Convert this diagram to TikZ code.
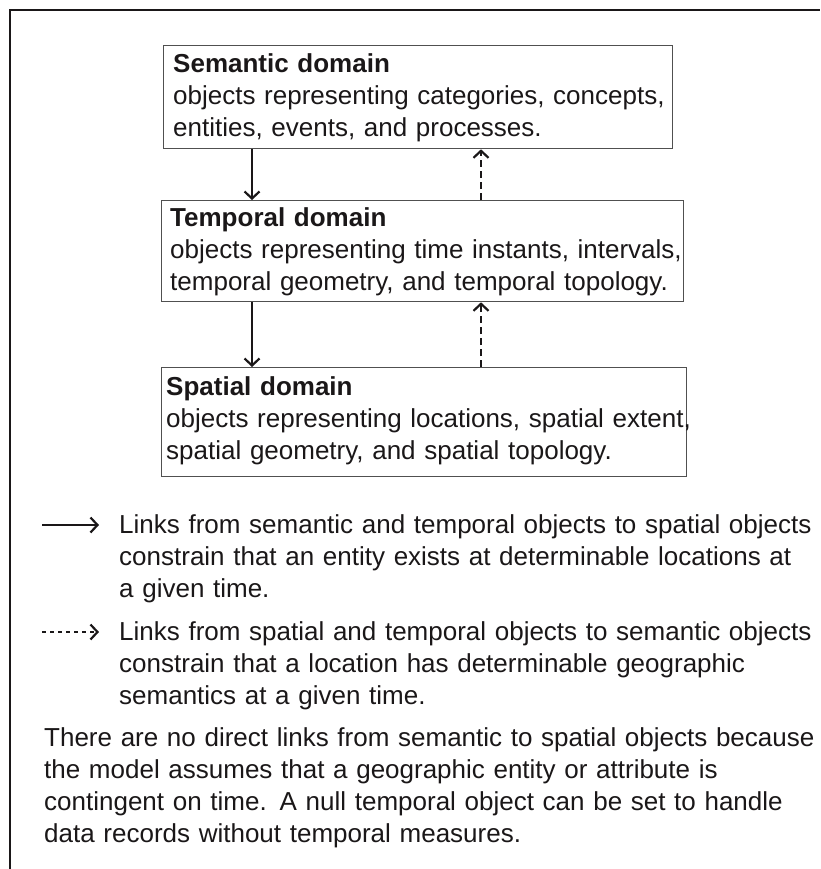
\documentclass[tikz,border=0pt]{standalone}
\usepackage{fontspec}
\setmainfont{Liberation Sans}
\usetikzlibrary{arrows.meta,calc}
\definecolor{ink}{HTML}{1A1718}
\definecolor{boxline}{HTML}{505050}
\begin{document}
\begin{tikzpicture}[x=1pt,y=-1pt,
  frame/.style={draw=ink, line width=1.2pt},
  domainbox/.style={draw=boxline, line width=1.3pt, anchor=north west, inner sep=0pt},
  txt/.style={anchor=base west, inner sep=0pt, align=left, text=ink,
    font=\fontsize{26}{32}\selectfont},
  tip/.style={-{Straight Barb[length=7pt,width=15pt,line width=2.2pt]}},
  solidarr/.style={draw=ink, line width=2pt, tip},
  dasharr/.style={draw=ink, line width=2pt, dash pattern=on 7pt off 4pt, tip},
  legdash/.style={draw=ink, line width=2pt, dash pattern=on 4pt off 4pt, tip}
]
\useasboundingbox (0,0) rectangle (820,869);
% frame
\draw[frame] (10,869) -- (10,10) -- (820,10);

% domain boxes
\node[domainbox, minimum width=509pt, minimum height=103pt] (sem) at (163,45) {};
\node[domainbox, minimum width=522pt, minimum height=101pt] (tem) at (161,200) {};
\node[domainbox, minimum width=525pt, minimum height=109pt] (spa) at (161,367) {};

\node[txt, text width=505pt] (semtxt) at ($(sem.north west)+(10,28)$)
  {\textbf{Semantic domain}\\objects representing categories, concepts,\\entities, events, and processes.};
\node[txt, text width=520pt] (temtxt) at ($(tem.north west)+(9,26)$)
  {\textbf{Temporal domain}\\objects representing time instants, intervals,\\temporal geometry, and temporal topology.};
\node[txt, text width=530pt] (spatxt) at ($(spa.north west)+(5,28)$)
  {\textbf{Spatial domain}\\objects representing locations, spatial extent,\\spatial geometry, and spatial topology.};

% connectors
\coordinate (xs) at (252,0);
\coordinate (xd) at (481,0);
\draw[solidarr] (xs |- sem.south) -- (xs |- tem.north);
\draw[dasharr] (xd |- tem.north) -- (xd |- sem.south);
\draw[solidarr] (xs |- tem.south) -- (xs |- spa.north);
\draw[dasharr] (xd |- spa.north) -- (xd |- tem.south);

% legend
\coordinate (l1a) at (42,525);
\coordinate (l1b) at (99,525);
\draw[solidarr] (l1a) -- (l1b);
\node[txt, text width=695pt] (leg1) at (119,533)
  {Links from semantic and temporal objects to spatial objects\\constrain that an entity exists at determinable locations at\\a given time.};

\coordinate (l2a) at (42,632);
\coordinate (l2b) at (99,632);
\draw[legdash] (l2a) -- (l2b);
\node[txt, text width=695pt] (leg2) at (119,640)
  {Links from spatial and temporal objects to semantic objects\\constrain that a location has determinable geographic\\semantics at a given time.};

\node[txt, text width=800pt] (note) at (44,746)
  {There are no direct links from semantic to spatial objects because\\the model assumes that a geographic entity or attribute is\\contingent on time. A null temporal object can be set to handle\\data records without temporal measures.};
\end{tikzpicture}
\end{document}
